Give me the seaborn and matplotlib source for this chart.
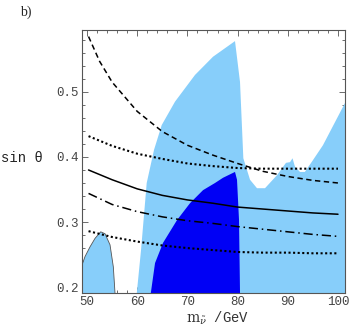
import matplotlib
matplotlib.use("Agg")
import matplotlib.pyplot as plt
from matplotlib.ticker import MultipleLocator
import seaborn as sns

# allowed region (light blue)
light_x = [59.9, 60.76, 61.89, 63.35, 64.88, 67.53, 71.51, 75.1, 79.48, 80.48, 81.14,
           81.87, 82.47, 83.86, 85.46, 87.85, 89.64, 90.44, 90.94, 91.43, 92.43,
           93.4, 95.0, 97.0, 101.4, 101.4]
light_y = [0.19, 0.257, 0.36, 0.411, 0.449, 0.485, 0.526, 0.554, 0.578, 0.515, 0.398,
           0.38, 0.365, 0.352, 0.352, 0.372, 0.391, 0.392, 0.398, 0.385, 0.377,
           0.377, 0.395, 0.418, 0.483, 0.19]

# small allowed island at low mass
blob_x = [49.0, 49.0, 49.6, 50.6, 51.6, 52.73, 53.59, 54.58, 55.24, 55.58]
blob_y = [0.19, 0.234, 0.247, 0.262, 0.275, 0.285, 0.282, 0.265, 0.231, 0.19]

# dark blue region
dark_x = [62.69, 63.55, 65.14, 67.93, 70.52, 73.11, 75.5, 77.09, 79.48, 79.88, 80.28, 80.48]
dark_y = [0.19, 0.237, 0.268, 0.303, 0.329, 0.349, 0.36, 0.368, 0.377, 0.365, 0.303, 0.19]

# curves
dashed_x = [50.3, 52.5, 55, 60, 65, 70, 75, 80, 85, 90, 95, 100]
dashed_y = [0.585, 0.547, 0.515, 0.47, 0.439, 0.418, 0.403, 0.39, 0.378, 0.37, 0.364, 0.36]

curve_x = [50.3, 55, 60, 65, 70, 75, 80, 85, 90, 95, 100]
dotted_hi = [0.432, 0.417, 0.405, 0.397, 0.39, 0.386, 0.383, 0.382, 0.382, 0.382, 0.382]
solid = [0.38, 0.365, 0.351, 0.341, 0.334, 0.329, 0.323, 0.32, 0.317, 0.314, 0.312]
dashdot = [0.344, 0.327, 0.316, 0.308, 0.302, 0.298, 0.293, 0.289, 0.285, 0.281, 0.278]
dotted_lo = [0.286, 0.277, 0.27, 0.264, 0.26, 0.257, 0.254, 0.253, 0.253, 0.252, 0.252]

sns.set_style("ticks")
plt.rcParams['font.family'] = ['Liberation Mono', 'DejaVu Sans Mono']
plt.rcParams['mathtext.fontset'] = 'dejavuserif'

fig = plt.figure(figsize=(3.49, 3.32), dpi=100)
ax = fig.add_axes([0.235, 0.1175, 0.7536, 0.792])

lightblue = '#87cefa'
ax.fill(light_x, light_y, color=lightblue, lw=0, zorder=1)
ax.fill(blob_x, blob_y, facecolor=lightblue, edgecolor='#555555', lw=0.6, zorder=1)
ax.fill(dark_x, dark_y, color='#0000f5', lw=0, zorder=2)

sns.lineplot(x=dashed_x, y=dashed_y, color='black', lw=1.1,
             linestyle=(0, (3.5, 2.3)), ax=ax, zorder=3)
sns.lineplot(x=curve_x, y=dotted_hi, color='black', lw=1.5,
             linestyle=(0, (1, 1.2)), ax=ax, zorder=3)
sns.lineplot(x=curve_x, y=solid, color='black', lw=1.1, ax=ax, zorder=3)
sns.lineplot(x=curve_x, y=dashdot, color='black', lw=1.1,
             linestyle=(0, (6, 2.5, 1, 2.5)), ax=ax, zorder=3)
sns.lineplot(x=curve_x, y=dotted_lo, color='black', lw=1.5,
             linestyle=(0, (1, 1.2)), ax=ax, zorder=3)

ax.set_xlim(49.0, 101.4)
ax.set_ylim(0.191, 0.595)
ax.xaxis.set_major_locator(MultipleLocator(10))
ax.xaxis.set_minor_locator(MultipleLocator(2))
ax.yaxis.set_major_locator(MultipleLocator(0.1))
ax.yaxis.set_minor_locator(MultipleLocator(0.02))
ax.set_xticks([50, 60, 70, 80, 90, 100])
ax.set_xticklabels(['50', '60', '70', '80', '90', '100'])
ax.set_yticks([0.2, 0.3, 0.4, 0.5])
ax.set_yticklabels(['0.2', '0.3', '0.4', '0.5'])

ax.tick_params(which='both', direction='in', top=True, right=True,
               colors='#555555', labelcolor='#444444', labelsize=9, width=0.6)
ax.tick_params(which='major', length=4, pad=2)
ax.tick_params(which='minor', length=2)
for s in ax.spines.values():
    s.set_color('#555555')
    s.set_linewidth(0.8)

fig.text(0.003, 1 - 158 / 332, 'sin θ', fontsize=10, color='#222222', va='center', ha='left')
fig.text(218 / 349, 1 - 318 / 332, r'$\mathrm{m}_{\tilde{\nu}}$ /GeV', fontsize=10,
         color='#333333', ha='center', va='center')
fig.text(20 / 349, 1 - 12 / 332, 'b)', fontsize=10, family='Liberation Serif',
         ha='left', va='center')

fig.savefig('out.png', dpi=100)
